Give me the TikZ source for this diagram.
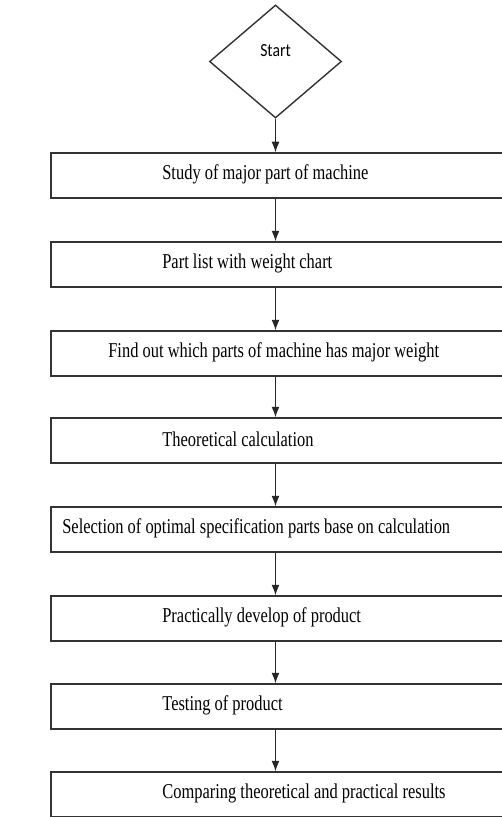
\documentclass[tikz,border=0pt]{standalone}
\usepackage{fontspec}
\setmainfont{Liberation Serif}[FakeStretch=0.78]
\newfontfamily\startfont{Carlito}[FakeStretch=0.85]
\usetikzlibrary{shapes.geometric, arrows.meta}

\begin{document}
\begin{tikzpicture}[x=0.2mm, y=-0.2mm]

            % Styles for the flowchart
            \tikzset{
                startbox/.style={diamond, draw=black!80, thick, minimum width=26.4mm, minimum height=22.6mm, inner sep=0pt},
                stepbox/.style={rectangle, draw=black!80, thick, minimum width=93.8mm, minimum height=9mm, inner sep=0pt},
                steptext/.style={anchor=west, inner sep=0pt, font=\fontsize{12}{14}\selectfont},
                flowarrow/.style={black!85, semithick, -{Latex[length=6pt, width=4.5pt]}}
            }

            \useasboundingbox (0,0) rectangle (502,817);

            % --- START DIAMOND ---
            \node[startbox] (start) at (275.5, 61.5) {};
            \node[font=\startfont\fontsize{10.5}{12}\selectfont] (starttxt) at (275.5, 51) {Start};

            % --- STEP BOXES ---
            % Boxes run past the right edge of the page
            \foreach \n/\ytop/\tx/\txt in {
                1/153/162/{Study of major part of machine},
                2/242/162/{Part list with weight chart},
                3/331/108/{Find out which parts of machine has major weight},
                4/418/162/{Theoretical calculation},
                5/507/62/{Selection of optimal specification parts base on calculation},
                6/596/162/{Practically develop of product},
                7/684/162/{Testing of product},
                8/772/162/{Comparing theoretical and practical results}} {
                \node[stepbox] (b\n) at (285.5, \ytop+22.5) {};
                \node[steptext] (t\n) at (\tx, \ytop+21) {\txt};
            }

            % --- ARROWS ---
            \draw[flowarrow] (start.south) -- (b1.north -| start.south);
            \foreach \a/\b in {1/2, 2/3, 3/4, 4/5, 5/6, 6/7, 7/8} {
                \draw[flowarrow] (b\a.south -| start.south) -- (b\b.north -| start.south);
            }

        \end{tikzpicture}
\end{document}
